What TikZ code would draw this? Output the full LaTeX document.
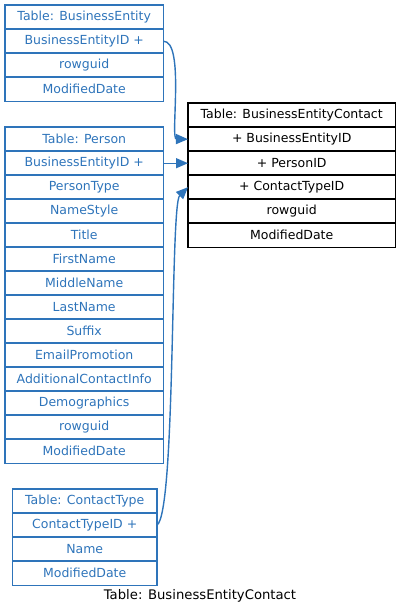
\documentclass[tikz,border=0pt]{standalone}
\usepackage{fontspec}
\setmainfont{DejaVu Sans}
\usetikzlibrary{arrows.meta}
\definecolor{tblue}{RGB}{46,116,186}
\begin{document}
\begin{tikzpicture}[x=1pt,y=-1pt,
  rowfont/.style={font=\fontsize{12.5}{14}\selectfont},
  brow/.style={rowfont, text=tblue, minimum height=24pt, inner sep=0pt, anchor=north west},
  krow/.style={rowfont, text=black, minimum height=24pt, inner sep=0pt, anchor=north west},
  bline/.style={draw=tblue, line width=1.3pt},
  kline/.style={draw=black, line width=1.1pt},
  conn/.style={draw=tblue, line width=1.4pt, -{Triangle[length=12pt,width=10pt]}}]
\useasboundingbox (0,0) rectangle (400,616);
\foreach \t [count=\i from 0] in {Table: BusinessEntity, BusinessEntityID +, rowguid, ModifiedDate}{
  \node[brow, minimum width=158pt] (be\i) at (5,5+24*\i) {\t};
  \draw[bline] (be\i.north west) rectangle (be\i.south east);}
\foreach \t [count=\i from 0] in {Table: Person, BusinessEntityID +, PersonType, NameStyle, Title, FirstName, MiddleName, LastName, Suffix, EmailPromotion, AdditionalContactInfo, Demographics, rowguid, ModifiedDate}{
  \node[brow, minimum width=158pt] (pe\i) at (5,127+24*\i) {\t};
  \draw[bline] (pe\i.north west) rectangle (pe\i.south east);}
\foreach \t [count=\i from 0] in {Table: ContactType, ContactTypeID +, Name, ModifiedDate}{
  \node[brow, minimum width=144pt] (ct\i) at (12.5,489+24*\i) {\t};
  \draw[bline] (ct\i.north west) rectangle (ct\i.south east);}
\foreach \t [count=\i from 0] in {Table: BusinessEntityContact, + BusinessEntityID, + PersonID, + ContactTypeID, rowguid, ModifiedDate}{
  \node[krow, minimum width=207pt] (bec\i) at (188,103+24*\i) {\t};
  \draw[kline] (bec\i.north west) rectangle (bec\i.south east);}
\node[font=\fontsize{13.2}{15}\selectfont, inner sep=0pt] (cap) at (200,596) {Table: BusinessEntityContact};
\draw[conn] (be1.east) .. controls (185,41) and (170,139) .. (bec1.west);
\draw[conn] (pe1.east) -- (bec2.west);
\draw[conn] (ct1.east) .. controls (176,513) and (170,205) .. (bec3.west);
\end{tikzpicture}
\end{document}
